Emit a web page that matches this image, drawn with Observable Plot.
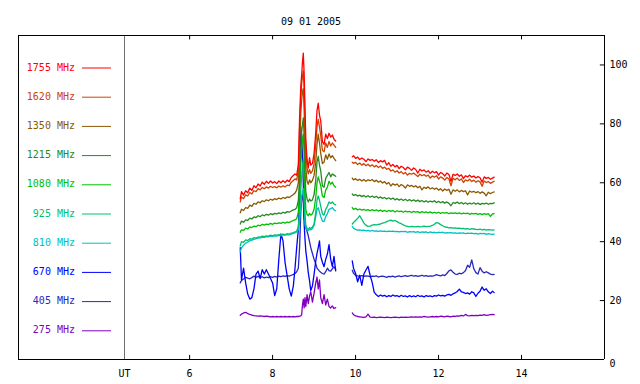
<!DOCTYPE html>
<html><head><meta charset="utf-8">
<script src="https://cdn.jsdelivr.net/npm/d3@7"></script>
<script src="https://cdn.jsdelivr.net/npm/@observablehq/plot@0.6"></script>
<style>
body{margin:0;background:#fff;}
#wrap{position:relative;width:640px;height:384px;font-family:"DejaVu Sans Mono",monospace;}
#wrap svg.over{position:absolute;left:0;top:0;pointer-events:none;}
#box{position:absolute;left:18px;top:35px;width:106px;height:325px;box-sizing:border-box;border:1px solid #000;border-right:none;}
</style></head><body><div id="wrap"><div id="box"></div></div>
<script>
const title = "09 01 2005";
const freqs = ["1755 MHz","1620 MHz","1350 MHz","1215 MHz","1080 MHz","925 MHz","810 MHz","670 MHz","405 MHz","275 MHz"];
const colors = ["#ff0000","#cc4400","#8b5a00","#228b22","#00c000","#00c070","#00c0c0","#0000ff","#2828c0","#8000c0"];
const xTicks = [6, 8, 10, 12, 14];
const yTicks = [20, 40, 60, 80, 100];

// time (UT hours), segment before the gap
const t1 = [
 7.22, 7.25, 7.30, 7.35, 7.40, 7.45, 7.50, 7.55, 7.60, 7.65,
 7.70, 7.75, 7.80, 7.85, 7.90, 7.95, 8.00, 8.05, 8.10, 8.15,
 8.20, 8.25, 8.30, 8.35, 8.40, 8.45, 8.50, 8.54, 8.58, 8.62,
 8.65, 8.68, 8.70, 8.72, 8.74, 8.76, 8.78, 8.80, 8.83, 8.86,
 8.89, 8.92, 8.96, 9.00, 9.04, 9.07, 9.10, 9.13, 9.16, 9.20,
 9.24, 9.28, 9.32, 9.36, 9.40, 9.44, 9.48, 9.52];
// time (UT hours), segment after the gap
const t2 = [
 9.92, 9.95, 10.00, 10.05, 10.10, 10.15, 10.20, 10.25, 10.30, 10.35,
 10.40, 10.45, 10.50, 10.55, 10.60, 10.65, 10.70, 10.75, 10.80, 10.85,
 10.90, 10.95, 11.00, 11.05, 11.10, 11.15, 11.20, 11.25, 11.30, 11.35,
 11.40, 11.45, 11.50, 11.55, 11.60, 11.65, 11.70, 11.75, 11.80, 11.85,
 11.90, 11.95, 12.00, 12.05, 12.10, 12.15, 12.20, 12.25, 12.30, 12.35,
 12.40, 12.45, 12.50, 12.55, 12.60, 12.65, 12.70, 12.75, 12.80, 12.85,
 12.90, 12.95, 13.00, 13.05, 13.10, 13.15, 13.20, 13.25, 13.30, 13.34];

const f1755a = [
 54.5, 57.0, 55.8, 57.3, 56.6, 58.2, 57.4, 59.0, 58.3, 59.6,
 58.9, 60.2, 59.5, 60.5, 59.8, 60.6, 59.9, 60.4, 59.7, 60.6,
 60.0, 60.7, 60.1, 60.9, 60.4, 61.8, 62.5, 63.0, 62.6, 66.0,
 82.0, 93.0, 96.5, 101.0, 104.0, 97.0, 86.0, 75.0, 68.0, 65.0,
 68.5, 66.0, 66.5, 70.0, 77.0, 84.5, 87.0, 83.0, 81.0, 74.0,
 73.0, 76.5, 75.0, 76.8, 75.5, 76.2, 74.8, 74.2];
const f1755b = [
 68.8, 69.2, 68.3, 68.7, 67.9, 68.4, 68.0, 67.2, 68.1, 67.6,
 67.9, 67.3, 67.8, 66.9, 67.5, 67.1, 67.6, 66.0, 66.8, 65.6,
 66.2, 65.4, 65.9, 64.8, 65.6, 65.2, 64.4, 65.3, 64.9, 64.2,
 65.0, 64.5, 63.3, 64.6, 64.0, 64.4, 63.6, 64.1, 63.2, 63.9,
 63.4, 63.8, 62.6, 63.5, 63.1, 62.3, 63.3, 62.8, 60.5, 62.9,
 62.5, 63.0, 62.2, 62.7, 61.4, 62.4, 62.0, 62.6, 61.9, 62.3,
 61.6, 62.1, 61.7, 60.2, 62.0, 61.5, 61.8, 61.2, 61.6, 61.9];

const f1620a = [
 53.5, 55.2, 54.6, 55.9, 55.5, 56.7, 56.2, 57.3, 57.0, 58.0,
 57.6, 58.4, 58.0, 58.6, 58.2, 58.8, 58.4, 58.7, 58.3, 58.9,
 58.5, 59.0, 58.6, 59.2, 59.0, 60.2, 60.8, 61.3, 61.0, 64.0,
 78.0, 89.0, 93.5, 96.0, 98.0, 92.0, 80.0, 71.0, 65.0, 63.0,
 64.5, 63.2, 64.0, 66.5, 73.0, 79.0, 81.5, 79.0, 76.0, 71.0,
 70.5, 73.5, 72.0, 74.0, 72.5, 73.5, 72.8, 72.0];
const f1620b = [
 67.0, 66.6, 66.9, 66.2, 66.7, 66.0, 66.5, 65.8, 66.3, 65.6,
 66.1, 65.4, 65.9, 65.2, 65.7, 64.9, 65.3, 64.6, 64.9, 64.0,
 64.4, 63.6, 64.1, 63.3, 63.8, 63.0, 63.5, 62.6, 63.2, 62.9,
 63.3, 62.7, 62.1, 62.9, 62.4, 62.8, 62.2, 62.6, 61.6, 62.3,
 61.9, 62.4, 61.3, 62.0, 61.6, 60.9, 61.8, 61.3, 59.0, 61.5,
 61.0, 61.6, 60.8, 61.3, 60.1, 61.0, 60.6, 61.2, 60.4, 60.9,
 60.2, 60.7, 60.3, 58.8, 60.6, 60.1, 60.4, 59.8, 60.2, 60.5];

const f1350a = [
 49.8, 51.0, 50.6, 51.6, 51.3, 52.4, 52.0, 53.0, 52.7, 53.5,
 53.2, 53.9, 53.6, 54.2, 53.9, 54.4, 54.1, 54.6, 54.3, 54.8,
 54.5, 55.0, 54.7, 55.2, 55.0, 55.5, 56.0, 56.5, 57.5, 60.0,
 72.0, 84.0, 88.0, 91.0, 92.0, 85.0, 74.0, 65.0, 60.5, 59.5,
 61.0, 60.0, 60.8, 62.5, 67.0, 73.0, 76.5, 73.5, 70.0, 66.5,
 67.0, 69.5, 68.0, 69.8, 68.5, 69.2, 68.3, 67.5];
const f1350b = [
 61.6, 61.0, 61.4, 60.8, 61.2, 60.6, 61.1, 60.5, 61.0, 60.7,
 61.1, 60.4, 60.9, 60.2, 60.6, 59.9, 60.4, 59.6, 60.1, 58.9,
 59.7, 59.2, 59.6, 58.7, 59.4, 59.0, 58.2, 59.3, 58.8, 59.1,
 58.6, 59.0, 58.3, 58.8, 57.6, 58.5, 58.1, 58.6, 57.9, 58.3,
 57.8, 58.2, 57.5, 58.0, 57.2, 57.9, 57.4, 57.8, 56.1, 57.6,
 57.1, 57.6, 56.9, 57.4, 57.0, 57.3, 55.9, 57.2, 56.8, 57.1,
 56.6, 57.0, 56.4, 56.9, 56.5, 55.6, 56.8, 56.3, 56.7, 56.9];

const f1215a = [
 46.0, 47.0, 46.6, 47.4, 47.2, 48.0, 47.7, 48.4, 48.2, 48.8,
 48.5, 49.1, 48.8, 49.3, 49.0, 49.5, 49.2, 49.6, 49.4, 49.8,
 49.5, 50.0, 49.7, 50.2, 50.0, 50.4, 50.8, 51.0, 51.5, 54.0,
 62.0, 72.0, 77.0, 80.0, 82.0, 76.0, 64.0, 57.0, 54.5, 53.5,
 54.5, 53.8, 54.2, 56.0, 61.0, 67.0, 69.0, 66.0, 64.0, 59.0,
 58.5, 61.5, 62.5, 63.5, 62.0, 63.0, 62.6, 62.2];
const f1215b = [
 56.2, 55.7, 56.0, 55.5, 55.8, 55.3, 55.7, 55.2, 55.6, 55.1,
 55.5, 55.0, 55.4, 54.8, 55.2, 54.7, 55.0, 54.5, 54.9, 54.4,
 54.8, 54.2, 54.6, 54.1, 54.5, 54.0, 54.4, 53.9, 54.3, 53.8,
 54.2, 53.7, 54.1, 53.6, 54.0, 53.5, 53.9, 53.4, 53.8, 53.5,
 53.9, 53.3, 53.7, 53.2, 53.6, 53.1, 53.5, 53.0, 52.2, 53.3,
 53.0, 53.5, 52.9, 53.3, 52.8, 53.2, 52.7, 53.1, 52.8, 53.2,
 52.7, 53.1, 52.6, 53.0, 52.8, 53.1, 52.7, 53.0, 52.9, 53.2];

const f1080a = [
 43.2, 44.0, 43.8, 44.6, 44.3, 45.0, 44.8, 45.3, 45.1, 45.6,
 45.4, 45.9, 45.6, 46.0, 45.8, 46.2, 45.9, 46.3, 46.1, 46.4,
 46.2, 46.6, 46.3, 46.7, 46.5, 46.9, 47.2, 47.4, 47.8, 50.0,
 57.0, 66.0, 71.0, 75.0, 76.5, 70.0, 57.0, 51.0, 49.3, 48.8,
 49.6, 49.0, 49.5, 51.0, 55.0, 60.0, 62.0, 60.5, 59.0, 55.5,
 55.0, 57.5, 58.5, 60.5, 59.5, 60.2, 59.0, 58.5];
const f1080b = [
 51.6, 51.0, 51.3, 50.8, 51.1, 50.7, 51.0, 50.6, 50.9, 50.5,
 50.9, 50.5, 50.8, 50.4, 50.7, 50.3, 50.6, 50.2, 50.6, 50.3,
 50.6, 50.1, 50.5, 50.2, 50.4, 50.0, 50.4, 50.1, 50.3, 49.9,
 50.3, 50.0, 50.2, 49.8, 50.2, 49.9, 50.1, 49.8, 50.1, 49.7,
 50.0, 49.7, 50.0, 49.6, 49.9, 49.7, 49.9, 49.5, 49.8, 49.6,
 49.8, 49.5, 49.8, 49.4, 49.7, 49.5, 49.7, 49.3, 49.6, 49.4,
 49.6, 49.3, 49.5, 49.2, 49.5, 49.3, 49.5, 48.6, 49.4, 49.5];

const f925a = [
 38.6, 40.0, 39.8, 40.6, 40.4, 41.0, 40.9, 41.4, 41.2, 41.6,
 41.5, 41.9, 41.7, 42.0, 41.9, 42.2, 42.0, 42.3, 42.2, 42.4,
 42.3, 42.6, 42.4, 42.7, 42.6, 42.9, 43.1, 43.3, 43.6, 45.0,
 50.0, 58.0, 62.0, 66.0, 68.0, 62.0, 50.0, 45.5, 44.5, 44.2,
 44.8, 44.5, 45.0, 46.0, 50.0, 54.0, 55.5, 54.0, 52.0, 49.5,
 49.0, 51.0, 52.0, 53.5, 53.0, 53.5, 52.8, 52.5];
const f925b = [
 46.0, 46.5, 47.2, 47.9, 48.8, 47.6, 46.3, 45.6, 45.2, 45.3,
 45.6, 45.8, 45.7, 45.9, 46.0, 46.3, 46.5, 46.8, 47.1, 47.3,
 47.0, 47.2, 46.8, 46.4, 46.1, 45.7, 45.4, 45.2, 45.0, 45.2,
 45.1, 45.0, 45.2, 45.0, 45.1, 45.3, 45.1, 45.2, 45.3, 45.5,
 45.9, 46.5, 46.3, 45.8, 45.4, 45.0, 44.9, 44.7, 44.8, 44.6,
 44.7, 44.5, 44.6, 44.4, 44.5, 44.3, 44.4, 44.2, 44.4, 44.3,
 44.2, 44.1, 44.3, 44.0, 44.2, 43.9, 44.1, 44.0, 43.9, 44.0];

const f810a = [
 36.5, 38.0, 38.8, 39.5, 39.8, 40.3, 40.5, 40.8, 41.0, 41.2,
 41.3, 41.5, 41.5, 41.7, 41.6, 41.9, 41.8, 42.0, 41.9, 42.1,
 42.0, 42.3, 42.2, 42.4, 42.3, 42.6, 42.8, 43.0, 43.3, 44.0,
 47.0, 52.0, 55.0, 57.0, 58.0, 53.0, 46.0, 44.5, 44.0, 43.8,
 44.2, 44.0, 44.5, 45.5, 48.5, 51.0, 51.5, 50.0, 48.5, 47.0,
 46.8, 48.5, 49.5, 51.0, 51.2, 51.6, 50.8, 50.5];
const f810b = [
 45.2, 44.6, 44.2, 43.9, 44.0, 43.8, 43.9, 43.7, 43.8, 43.6,
 43.8, 43.6, 43.7, 43.5, 43.7, 43.5, 43.6, 43.4, 43.6, 43.5,
 43.6, 43.4, 43.5, 43.3, 43.5, 43.4, 43.5, 43.2, 43.4, 43.3,
 43.4, 43.2, 43.4, 43.1, 43.3, 43.2, 43.3, 43.0, 43.3, 43.1,
 43.2, 43.0, 43.2, 43.1, 43.2, 42.9, 43.1, 43.0, 43.1, 42.9,
 43.0, 42.8, 43.0, 42.9, 43.0, 42.7, 42.9, 42.8, 42.9, 42.7,
 42.8, 42.6, 42.8, 42.7, 42.8, 42.5, 42.7, 42.6, 42.5, 42.6];

const f670a = [
 38.0, 27.0, 31.0, 26.0, 22.2, 20.5, 21.0, 24.0, 29.0, 30.0,
 27.5, 30.5, 29.0, 30.5, 29.0, 27.5, 26.0, 21.7, 24.0, 34.0,
 42.6, 40.3, 33.0, 28.5, 24.0, 21.5, 25.0, 31.0, 38.0, 44.0,
 55.0, 79.0, 75.0, 69.7, 60.0, 46.0, 41.0, 36.9, 33.5, 29.5,
 26.8, 23.4, 25.0, 29.0, 33.5, 36.0, 38.0, 40.3, 35.0, 33.0,
 31.5, 34.0, 35.8, 39.0, 34.0, 31.5, 35.0, 30.1];
const f670b = [
 33.5, 31.0, 29.2, 26.4, 28.6, 25.2, 29.0, 30.4, 31.6, 28.6,
 26.2, 22.8, 22.0, 21.4, 21.9, 21.5, 21.8, 21.3, 21.7, 21.4,
 21.9, 21.5, 21.7, 21.3, 21.8, 21.4, 21.6, 21.2, 21.7, 21.3,
 21.6, 21.3, 21.8, 21.4, 21.6, 21.2, 21.7, 21.4, 21.6, 21.3,
 21.7, 21.5, 21.9, 21.6, 21.8, 21.5, 21.9, 22.1, 21.8, 22.3,
 22.6, 23.1, 23.9, 23.0, 22.8, 22.4, 22.6, 22.2, 23.0, 22.6,
 21.4, 22.5, 23.2, 24.6, 23.5, 24.0, 23.0, 22.4, 23.2, 22.7];

const f405a = [
 26.0, 26.8, 27.3, 27.9, 27.6, 27.4, 27.8, 28.3, 27.9, 28.2,
 27.8, 28.1, 27.7, 28.0, 27.8, 28.1, 27.9, 28.2, 28.0, 28.3,
 28.1, 28.4, 28.2, 28.5, 28.3, 28.6, 28.9, 29.2, 29.8, 31.0,
 38.0, 50.0, 55.0, 56.0, 53.0, 48.0, 46.5, 45.0, 43.5, 42.0,
 40.0, 38.0, 36.0, 34.0, 32.5, 31.0, 30.5, 30.0, 29.6, 29.2,
 29.0, 29.8, 31.0, 30.2, 30.0, 30.8, 31.5, 30.6];
const f405b = [
 30.3, 29.3, 28.6, 28.4, 28.3, 28.5, 28.2, 28.4, 28.3, 28.1,
 28.3, 28.2, 28.4, 28.0, 28.2, 28.3, 28.1, 27.9, 28.2, 28.1,
 28.3, 28.0, 28.2, 28.4, 28.1, 28.3, 28.5, 28.2, 28.4, 28.6,
 28.3, 28.5, 28.2, 28.4, 28.6, 28.3, 28.5, 28.2, 28.4, 28.3,
 28.5, 28.8, 28.6, 28.4, 28.7, 28.5, 29.2, 30.1, 30.4, 29.6,
 29.0, 28.9, 29.3, 29.1, 29.5, 30.2, 32.0, 31.3, 33.8, 30.8,
 29.5, 29.0, 31.2, 30.0, 29.4, 29.8, 29.4, 29.0, 28.8, 28.9];

const f275a = [
 15.0, 15.4, 15.8, 16.0, 15.6, 15.3, 15.1, 14.9, 14.8, 14.7,
 14.8, 14.7, 14.6, 14.7, 14.6, 14.5, 14.6, 14.5, 14.6, 14.5,
 14.6, 14.5, 14.6, 14.5, 14.6, 14.5, 14.6, 14.5, 14.6, 14.6,
 14.7, 14.8, 15.2, 18.5, 20.5, 17.5, 21.0, 18.0, 22.0, 19.0,
 21.5, 23.0, 19.5, 22.5, 26.0, 28.0, 24.0, 27.0, 21.0, 19.0,
 22.0, 18.5, 20.5, 18.0, 17.5, 18.2, 17.3, 17.6];
const f275b = [
 15.8, 15.2, 14.8, 14.6, 14.5, 14.4, 14.3, 14.5, 15.4, 14.4,
 14.3, 14.4, 14.2, 14.3, 14.4, 14.3, 14.2, 14.4, 14.3, 14.2,
 14.3, 14.4, 14.3, 14.2, 14.4, 14.3, 14.4, 14.3, 14.4, 14.5,
 14.4, 14.5, 14.4, 14.5, 14.4, 14.6, 14.5, 14.4, 14.5, 14.6,
 14.5, 14.6, 14.5, 14.7, 14.6, 14.5, 14.7, 14.6, 14.5, 14.7,
 14.6, 14.8, 14.7, 15.0, 14.8, 15.3, 14.9, 14.8, 15.0, 14.9,
 15.0, 14.9, 15.1, 15.0, 15.2, 15.0, 15.1, 15.2, 15.3, 15.2];

const segA = [f1755a, f1620a, f1350a, f1215a, f1080a, f925a, f810a, f670a, f405a, f275a];
const segB = [f1755b, f1620b, f1350b, f1215b, f1080b, f925b, f810b, f670b, f405b, f275b];

const xMin = 4.43, xMax = 16, yMax = 110;

const rows = [];
freqs.forEach((f, k) => {
  t1.forEach((t, i) => rows.push({t, v: segA[k][i], f, seg: f + "a"}));
  t2.forEach((t, i) => rows.push({t, v: segB[k][i], f, seg: f + "b"}));
});
// draw low frequencies first so 1755 MHz is on top
const order = freqs.slice().reverse();

const lineMarks = order.map(f => Plot.line(rows.filter(d => d.f === f), {
  x: "t", y: "v", z: "seg", stroke: colors[freqs.indexOf(f)], strokeWidth: 1.3
}));

const chart = Plot.plot({
  width: 640, height: 384,
  marginLeft: 124, marginRight: 36, marginTop: 35, marginBottom: 25,
  style: {fontFamily: "'DejaVu Sans Mono', monospace", fontSize: "10px", background: "transparent", color: "#000"},
  x: {domain: [xMin, xMax]},
  y: {domain: [0, yMax]},
  marks: [
    ...lineMarks,
    Plot.ruleX([xMin], {stroke: "#707070"}),
    Plot.ruleX([xMax], {stroke: "#000"}),
    Plot.ruleY([0, yMax], {stroke: "#000"}),
    Plot.ruleX(xTicks, {y1: 0, y2: 1.4, stroke: "#000"}),
    Plot.ruleX(xTicks, {y1: yMax, y2: yMax - 1.5, stroke: "#000"}),
    Plot.ruleY(yTicks, {x1: xMax - 0.1, x2: xMax, stroke: "#000"}),
    Plot.axisX({ticks: [xMin, ...xTicks], tickFormat: d => d < 5 ? "UT" : String(d), tickSize: 0, tickPadding: 10, label: null}),
    Plot.axisY({anchor: "right", ticks: yTicks, tickSize: 0, tickPadding: 5, label: null}),
    Plot.axisY({anchor: "right", ticks: [0], tickSize: 0, tickPadding: 5, dy: 4, label: null})
  ]
});
const wrap = document.getElementById("wrap");
wrap.appendChild(chart);

// title and legend overlay
const svg = d3.select(wrap).append("svg").attr("class", "over").attr("width", 640).attr("height", 384)
  .style("font-family", "'DejaVu Sans Mono', monospace").style("font-size", "10px");
svg.append("text").attr("x", 311).attr("y", 22).attr("text-anchor", "middle").attr("dominant-baseline", "middle").attr("fill", "#000").text(title);
const leg = svg.selectAll("g.leg").data(freqs).join("g").attr("class", "leg")
  .attr("transform", (d, i) => `translate(0,${67.5 + i * 29.2})`);
leg.append("text").attr("x", 75).attr("y", 0).attr("text-anchor", "end").attr("dominant-baseline", "middle")
  .attr("fill", (d, i) => colors[i]).text(d => d);
leg.append("line").attr("x1", 82).attr("x2", 111).attr("y1", 0.5).attr("y2", 0.5)
  .attr("stroke", (d, i) => colors[i]).attr("stroke-width", 1);
</script></body></html>
